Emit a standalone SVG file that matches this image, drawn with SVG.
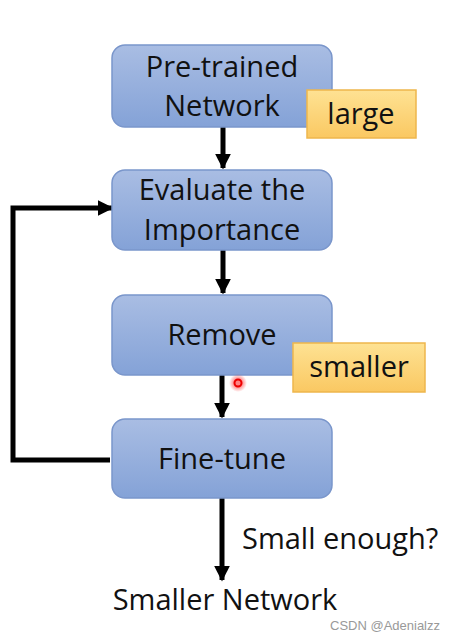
<svg xmlns="http://www.w3.org/2000/svg" width="460" height="640" viewBox="0 0 460 640">
<defs>
<linearGradient id="blue" x1="0" y1="0" x2="0" y2="1"><stop offset="0" stop-color="#a9bde3"/><stop offset="1" stop-color="#84a2d7"/></linearGradient>
<linearGradient id="orange" x1="0" y1="0" x2="0" y2="1"><stop offset="0" stop-color="#fee293"/><stop offset="1" stop-color="#fac862"/></linearGradient>
<marker id="ah" viewBox="0 0 10 10" refX="9" refY="5" markerWidth="3.2" markerHeight="3.2" orient="auto" markerUnits="strokeWidth"><path d="M0,0 L10,5 L0,10 Z" fill="#000"/></marker>
<radialGradient id="glow"><stop offset="0.4" stop-color="#ff3030" stop-opacity="0.6"/><stop offset="1" stop-color="#ff3030" stop-opacity="0"/></radialGradient>
</defs>
<style>
.node{fill:url(#blue);stroke:#7a96cb;stroke-width:1.5}
.tag{fill:url(#orange);stroke:#eeb64c;stroke-width:1.5}
text{font-family:"Open Sans",Lato,"Liberation Sans",sans-serif;fill:#111;font-size:29px}
.c{text-anchor:middle}
.ln{stroke:#000;stroke-width:5;fill:none}
</style>
<rect width="460" height="640" fill="#fff"/>
<g id="connectors">
<line class="ln" x1="223" y1="127" x2="223" y2="168" marker-end="url(#ah)"/>
<line class="ln" x1="223" y1="250" x2="223" y2="293" marker-end="url(#ah)"/>
<line class="ln" x1="222" y1="375" x2="222" y2="417" marker-end="url(#ah)"/>
<line class="ln" x1="222" y1="498" x2="222" y2="580" marker-end="url(#ah)"/>
<polyline class="ln" points="110,460 13,460 13,208 112,208" marker-end="url(#ah)"/>
</g>
<g id="pretrained"><rect class="node" x="112" y="45" width="220" height="82" rx="13"/><text class="c" x="222" y="77">Pre-trained</text><text class="c" x="222" y="116">Network</text></g>
<g id="large"><rect class="tag" x="307" y="90" width="109" height="48"/><text class="c" x="361" y="124">large</text></g>
<g id="evaluate"><rect class="node" x="112" y="170" width="220" height="80" rx="13"/><text class="c" x="222" y="200">Evaluate the</text><text class="c" x="222" y="240">Importance</text></g>
<g id="remove"><rect class="node" x="112" y="295" width="220" height="80" rx="13"/><text class="c" x="222" y="345">Remove</text></g>
<g id="smaller"><rect class="tag" x="293" y="343" width="132" height="49"/><text class="c" x="359" y="377">smaller</text></g>
<g id="finetune"><rect class="node" x="112" y="419" width="220" height="79" rx="13"/><text class="c" x="222" y="469">Fine-tune</text></g>
<text x="242" y="549">Small enough?</text>
<g id="result"><text class="c" x="225" y="610">Smaller Network</text></g>
<circle cx="238" cy="383" r="9" fill="url(#glow)"/>
<circle cx="238" cy="383" r="3.5" fill="none" stroke="#e00" stroke-width="2"/>
<text x="330" y="630" style="font-family:'Liberation Sans',sans-serif;font-size:13px;fill:#999">CSDN @Adenialzz</text>
</svg>
